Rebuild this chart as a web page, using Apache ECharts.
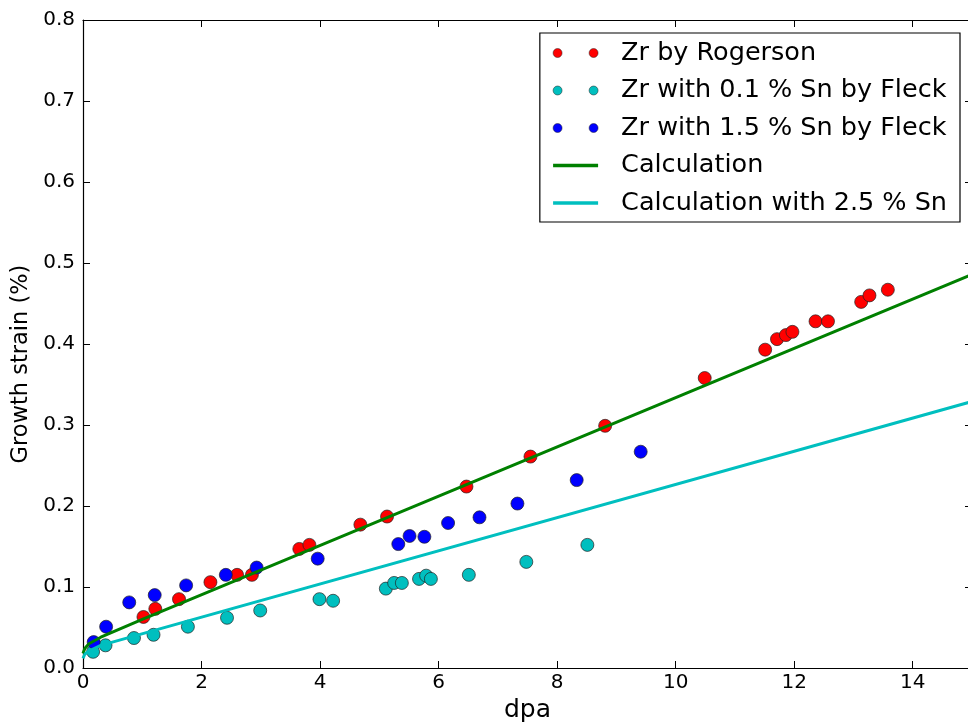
<!DOCTYPE html>
<html>
<head>
<meta charset="utf-8">
<script src="https://cdn.jsdelivr.net/npm/echarts@6/dist/echarts.min.js"></script>
<style>html,body{margin:0;padding:0;background:#fff}#c{width:968px;height:726px}</style>
</head>
<body>
<div id="c"></div>
<script>
// Zr by Rogerson [dpa, strain %]
var rogerson = [[1.02,0.063],[1.22,0.073],[1.62,0.085],[2.15,0.106],[2.60,0.115],[2.85,0.115],[3.65,0.147],[3.82,0.152],[4.68,0.177],[5.13,0.187],[6.47,0.224],[7.55,0.261],[8.81,0.299],[10.49,0.358],[11.51,0.393],[11.71,0.406],[11.86,0.411],[11.97,0.415],[12.36,0.428],[12.57,0.428],[13.13,0.452],[13.27,0.460],[13.58,0.467]];
// Zr with 0.1 % Sn by Fleck
var fleck01 = [[0.17,0.020],[0.38,0.028],[0.86,0.037],[1.19,0.041],[1.77,0.051],[2.43,0.062],[2.99,0.071],[3.99,0.085],[4.22,0.083],[5.11,0.098],[5.25,0.105],[5.38,0.105],[5.67,0.110],[5.79,0.114],[5.87,0.110],[6.51,0.115],[7.48,0.131],[8.51,0.152]];
// Zr with 1.5 % Sn by Fleck
var fleck15 = [[0.18,0.032],[0.39,0.051],[0.78,0.081],[1.21,0.090],[1.74,0.102],[2.41,0.115],[2.93,0.124],[3.96,0.135],[5.32,0.153],[5.51,0.163],[5.76,0.162],[6.16,0.179],[6.69,0.186],[7.33,0.203],[8.33,0.232],[9.41,0.267]];
// Calculation
var calc = [[0,0.018],[0.03,0.024],[0.1,0.030],[0.3,0.038],[1,0.060],[15,0.486]];
// Calculation with 2.5 % Sn
var calcSn = [[0,0.012],[0.03,0.017],[0.1,0.021],[0.3,0.028],[15,0.329]];

var names = ['Zr by Rogerson','Zr with 0.1 % Sn by Fleck','Zr with 1.5 % Sn by Fleck','Calculation','Calculation with 2.5 % Sn'];
var xTicks = [0,2,4,6,8,10,12,14];
var yTicks = ['0.0','0.1','0.2','0.3','0.4','0.5','0.6','0.7','0.8'];

var FONT = 'DejaVu Sans';
var twoDots = 'path://M0,4.5a4.5,4.5 0 1,0 9,0a4.5,4.5 0 1,0 -9,0M36,4.5a4.5,4.5 0 1,0 9,0a4.5,4.5 0 1,0 -9,0';
var bar = 'path://M0,0h40v3h-40z';
var dotStyle = function(c){return {color:c,borderColor:'#222',borderWidth:0.5};};

var chart = echarts.init(document.getElementById('c'), null, {renderer:'canvas'});
var axisCommon = {
  min:0,
  axisLine:{show:true,onZero:false,lineStyle:{color:'#000',width:1.2}},
  axisTick:{show:true,inside:true,length:7,lineStyle:{color:'#000',width:1}},
  splitLine:{show:false}
};
function scatterSeries(name, data, color){
  return {name:name,type:'scatter',data:data,symbol:'circle',symbolSize:13,
    itemStyle:{color:color,borderColor:'#222',borderWidth:0.7,opacity:1},z:2};
}
function lineSeries(name, data, color){
  return {name:name,type:'line',data:data,showSymbol:false,symbol:'none',smooth:false,
    lineStyle:{color:color,width:3},itemStyle:{color:color},z:3};
}
chart.setOption({
  animation:false,
  backgroundColor:'#fff',
  textStyle:{fontFamily:FONT},
  grid:{left:83,right:-4,top:20,bottom:58,containLabel:false,outerBoundsMode:'none'},
  xAxis:[
    Object.assign({},axisCommon,{type:'value',position:'bottom',max:15,interval:2,
      name:'dpa',nameLocation:'middle',nameGap:26,
      nameTextStyle:{fontFamily:FONT,fontSize:25,color:'#000'},
      axisLabel:{fontFamily:FONT,fontSize:20,color:'#000',margin:5,
        formatter:function(v){return xTicks.indexOf(v)>=0?String(v):'';}}}),
    Object.assign({},axisCommon,{type:'value',position:'top',max:15,interval:2,axisLabel:{show:false}})
  ],
  yAxis:[
    Object.assign({},axisCommon,{type:'value',position:'left',max:0.8,interval:0.1,
      name:'Growth strain (%)',nameLocation:'middle',nameGap:50,
      nameTextStyle:{fontFamily:FONT,fontSize:22.5,color:'#000',padding:[0,40,0,0]},
      axisLabel:{fontFamily:FONT,fontSize:20,color:'#000',margin:8,
        formatter:function(v){return yTicks[Math.round(v*10)];}}}),
    Object.assign({},axisCommon,{type:'value',position:'right',max:0.8,interval:0.1,axisLabel:{show:false}})
  ],
  legend:{
    show:true,orient:'vertical',right:8,top:33,
    padding:[7,13,6,13],itemGap:11.5,itemWidth:45,itemHeight:24,
    backgroundColor:'#fff',borderColor:'#000',borderWidth:1.2,borderRadius:0,
    textStyle:{fontFamily:FONT,fontSize:25.5,lineHeight:26,color:'#000',padding:[0,0,0,18]},
    data:[
      {name:names[0],icon:twoDots,itemStyle:dotStyle('#ff0000')},
      {name:names[1],icon:twoDots,itemStyle:dotStyle('#00bfbf')},
      {name:names[2],icon:twoDots,itemStyle:dotStyle('#0000ff')},
      {name:names[3],icon:bar,itemStyle:{color:'#008000',borderWidth:0}},
      {name:names[4],icon:bar,itemStyle:{color:'#00bfbf',borderWidth:0}}
    ]
  },
  series:[
    scatterSeries(names[0], rogerson, '#ff0000'),
    scatterSeries(names[1], fleck01, '#00bfbf'),
    scatterSeries(names[2], fleck15, '#0000ff'),
    lineSeries(names[3], calc, '#008000'),
    lineSeries(names[4], calcSn, '#00bfbf')
  ]
});
</script>
</body>
</html>
